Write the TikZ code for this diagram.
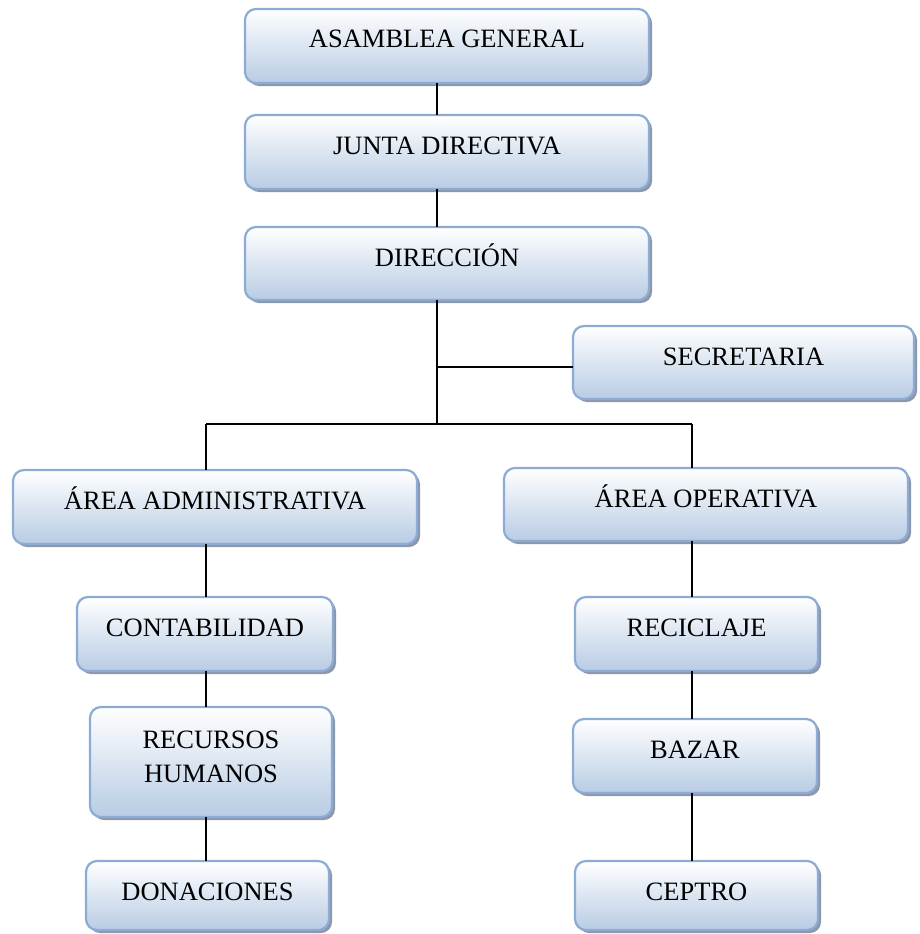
\documentclass[tikz,border=0pt]{standalone}
\usepackage{fontspec}
\setmainfont{Liberation Serif}
\usetikzlibrary{shadows}

\definecolor{boxedge}{RGB}{140,172,214}
\definecolor{boxfill}{RGB}{184,204,228}
\definecolor{boxshadow}{RGB}{140,152,170}

\tikzset{
  orgbox/.style={draw=boxedge, line width=2.2pt, rounded corners=11pt,
    top color=white, bottom color=boxfill, inner sep=0pt, outer sep=0pt,
    drop shadow={shadow xshift=3pt, shadow yshift=-3pt, fill=boxshadow, opacity=1}},
  orgtext/.style={font=\fontsize{26.5}{34}\selectfont, anchor=base, inner sep=0pt, align=center},
  link/.style={line width=1.6pt, black}
}

% box: name, left, top, right, bottom, label
\newcommand\orgunit[6]{%
  \node[orgbox, minimum width={(#4-#2)*1pt}, minimum height={(#5-#3)*1pt}]
    (#1) at ({(#2+#4)/2},{(#3+#5)/2}) {};
  \node[orgtext] (#1-label) at ({(#2+#4)/2},{#3+39}) {#6};
}

\begin{document}
\begin{tikzpicture}[x=1pt, y=-1pt]
  \useasboundingbox (0,0) rectangle (919,934);

  % junction points of the connectors
  \coordinate (stem)      at (437,424);
  \coordinate (secbranch) at (437,367);
  \coordinate (barL)      at (206,424);
  \coordinate (barR)      at (692,424);

  % units
  \orgunit{asamblea}{245}{9}{649}{83}{ASAMBLEA GENERAL}
  \orgunit{junta}{245}{115}{649}{189}{JUNTA DIRECTIVA}
  \orgunit{direccion}{245}{227}{649}{300}{DIRECCIÓN}
  \orgunit{secretaria}{573}{326}{914}{399}{SECRETARIA}
  \orgunit{admin}{13}{470}{417}{544}{ÁREA ADMINISTRATIVA}
  \orgunit{operativa}{504}{468}{908}{541}{ÁREA OPERATIVA}
  \orgunit{contabilidad}{77}{597}{333}{671}{CONTABILIDAD}
  \node[orgbox, minimum width=242pt, minimum height=110pt] (recursos) at (211,762) {};
  \node[orgtext] (recursos-label) at (211,782) {RECURSOS\\HUMANOS};
  \orgunit{donaciones}{86}{861}{329}{930}{DONACIONES}
  \orgunit{reciclaje}{575}{597}{818}{671}{RECICLAJE}
  \orgunit{bazar}{573}{719}{817}{793}{BAZAR}
  \orgunit{ceptro}{575}{861}{818}{930}{CEPTRO}

  % central stem and branches
  \draw[link] (asamblea.south -| stem) -- (junta.north -| stem);
  \draw[link] (junta.south -| stem) -- (direccion.north -| stem);
  \draw[link] (direccion.south -| stem) -- (stem);
  \draw[link] (secbranch) -- (secretaria.west |- secbranch);
  \draw[link] (barL) -- (barR);

  % left column
  \draw[link] (barL) -- (admin.north -| barL);
  \draw[link] (admin.south -| barL) -- (contabilidad.north -| barL);
  \draw[link] (contabilidad.south -| barL) -- (recursos.north -| barL);
  \draw[link] (recursos.south -| barL) -- (donaciones.north -| barL);

  % right column
  \draw[link] (barR) -- (operativa.north -| barR);
  \draw[link] (operativa.south -| barR) -- (reciclaje.north -| barR);
  \draw[link] (reciclaje.south -| barR) -- (bazar.north -| barR);
  \draw[link] (bazar.south -| barR) -- (ceptro.north -| barR);
\end{tikzpicture}
\end{document}
